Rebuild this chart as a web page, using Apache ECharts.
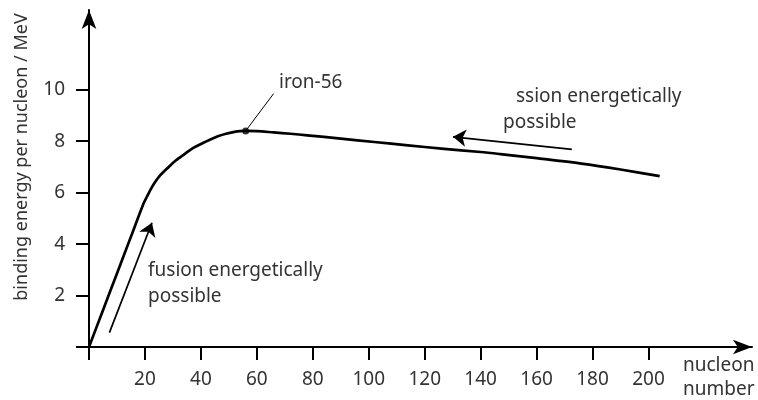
<!DOCTYPE html>
<html><head><meta charset="utf-8">
<script src="https://cdn.jsdelivr.net/npm/echarts@6/dist/echarts.min.js"></script>
<style>html,body{margin:0;padding:0;background:#fff}#c{width:758px;height:400px}</style>
</head><body><div id="c"></div>
<script>
// Curve: nucleon number vs binding energy per nucleon (MeV)
const nucleonNumber = [0, 5, 10, 15, 19.5, 20.7, 22, 23.7, 25.5, 28.5, 31, 34.4, 37, 40.4, 43, 46.3, 49, 52, 54, 56, 60, 66, 72, 78, 90, 102, 114, 126, 140, 147, 160, 176, 190, 204];
const bindingEnergy = [0, 1.43, 2.86, 4.29, 5.58, 5.84, 6.12, 6.42, 6.68, 7.0, 7.25, 7.52, 7.72, 7.91, 8.05, 8.2, 8.29, 8.36, 8.39, 8.40, 8.39, 8.34, 8.29, 8.23, 8.10, 7.97, 7.84, 7.71, 7.58, 7.5, 7.34, 7.13, 6.9, 6.64];
const iron56 = [56, 8.40];
const xTicks = [0, 20, 40, 60, 80, 100, 120, 140, 160, 180, 200];
const xLabels = [20, 40, 60, 80, 100, 120, 140, 160, 180, 200];
const yTicks = [0, 2, 4, 6, 8, 10];
const yLabels = [2, 4, 6, 8, 10];
// annotation arrows [from, to] in data coordinates
const fusionArrow = [[7.3, 0.56], [22.5, 4.83]];
const fissionArrow = [[172.6, 7.68], [130.1, 8.17]];
const ironLeader = [[66, 9.85], [56, 8.40]];

const FONT = '"Noto Sans", sans-serif';
const TXT = '#333333';
const chart = echarts.init(document.getElementById('c'), null, {renderer: 'canvas'});
const curve = nucleonNumber.map((a, i) => [a, bindingEnergy[i]]);

chart.setOption({
  animation: false,
  grid: {left: 89, right: 6, top: 10, bottom: 53, containLabel: false},
  xAxis: {
    type: 'value', min: 0, max: 237, interval: 20,
    axisLine: {show: true, symbol: ['none', 'arrow'], symbolSize: [11, 19], lineStyle: {color: '#000', width: 2}},
    axisTick: {show: true, customValues: xTicks, length: 13, lineStyle: {color: '#000', width: 2}},
    axisLabel: {show: true, customValues: xLabels, margin: 23, color: TXT, fontSize: 19, fontFamily: FONT},
    splitLine: {show: false}
  },
  yAxis: {
    type: 'value', min: 0, max: 13.1, interval: 2,
    axisLine: {show: true, symbol: ['none', 'arrow'], symbolSize: [11, 19], lineStyle: {color: '#000', width: 2}},
    axisTick: {show: true, customValues: yTicks, length: 13, lineStyle: {color: '#000', width: 2}},
    axisLabel: {show: true, customValues: yLabels, margin: 24, color: TXT, fontSize: 19, fontFamily: FONT},
    splitLine: {show: false}
  },
  series: [
    {type: 'line', data: curve, showSymbol: false, smooth: 0.3, lineStyle: {color: '#000', width: 2.7, join: 'round'}, z: 3},
    {type: 'lines', coordinateSystem: 'cartesian2d', polyline: false,
      symbol: ['none', 'arrow'], symbolSize: [0, 13],
      lineStyle: {color: '#000', width: 1.7, opacity: 1},
      data: [{coords: fusionArrow}, {coords: fissionArrow}], z: 4},
    {type: 'lines', coordinateSystem: 'cartesian2d', symbol: ['none', 'none'],
      lineStyle: {color: '#000', width: 1, opacity: 1},
      data: [{coords: ironLeader}], z: 4},
    {type: 'scatter', data: [iron56], symbolSize: 7, itemStyle: {color: '#000'}, z: 5}
  ],
  graphic: [
    {type: 'text', x: 22, y: 157, rotation: Math.PI / 2, style: {text: 'binding energy per nucleon / MeV', fill: TXT, font: '18px ' + FONT, textAlign: 'center', textVerticalAlign: 'middle'}},
    {type: 'text', x: 683, y: 366, style: {text: 'nucleon', fill: TXT, font: '19px ' + FONT, textAlign: 'left', textVerticalAlign: 'middle'}},
    {type: 'text', x: 683, y: 390, style: {text: 'number', fill: TXT, font: '19px ' + FONT, textAlign: 'left', textVerticalAlign: 'middle'}},
    {type: 'text', x: 279, y: 83, style: {text: 'iron-56', fill: TXT, font: '19px ' + FONT, textAlign: 'left', textVerticalAlign: 'middle'}},
    {type: 'text', x: 516, y: 97, style: {text: 'ssion energetically', fill: TXT, font: '19px ' + FONT, textAlign: 'left', textVerticalAlign: 'middle'}},
    {type: 'text', x: 503, y: 123, style: {text: 'possible', fill: TXT, font: '19px ' + FONT, textAlign: 'left', textVerticalAlign: 'middle'}},
    {type: 'text', x: 148, y: 271, style: {text: 'fusion energetically', fill: TXT, font: '19px ' + FONT, textAlign: 'left', textVerticalAlign: 'middle'}},
    {type: 'text', x: 148, y: 297, style: {text: 'possible', fill: TXT, font: '19px ' + FONT, textAlign: 'left', textVerticalAlign: 'middle'}}
  ]
});
</script></body></html>
